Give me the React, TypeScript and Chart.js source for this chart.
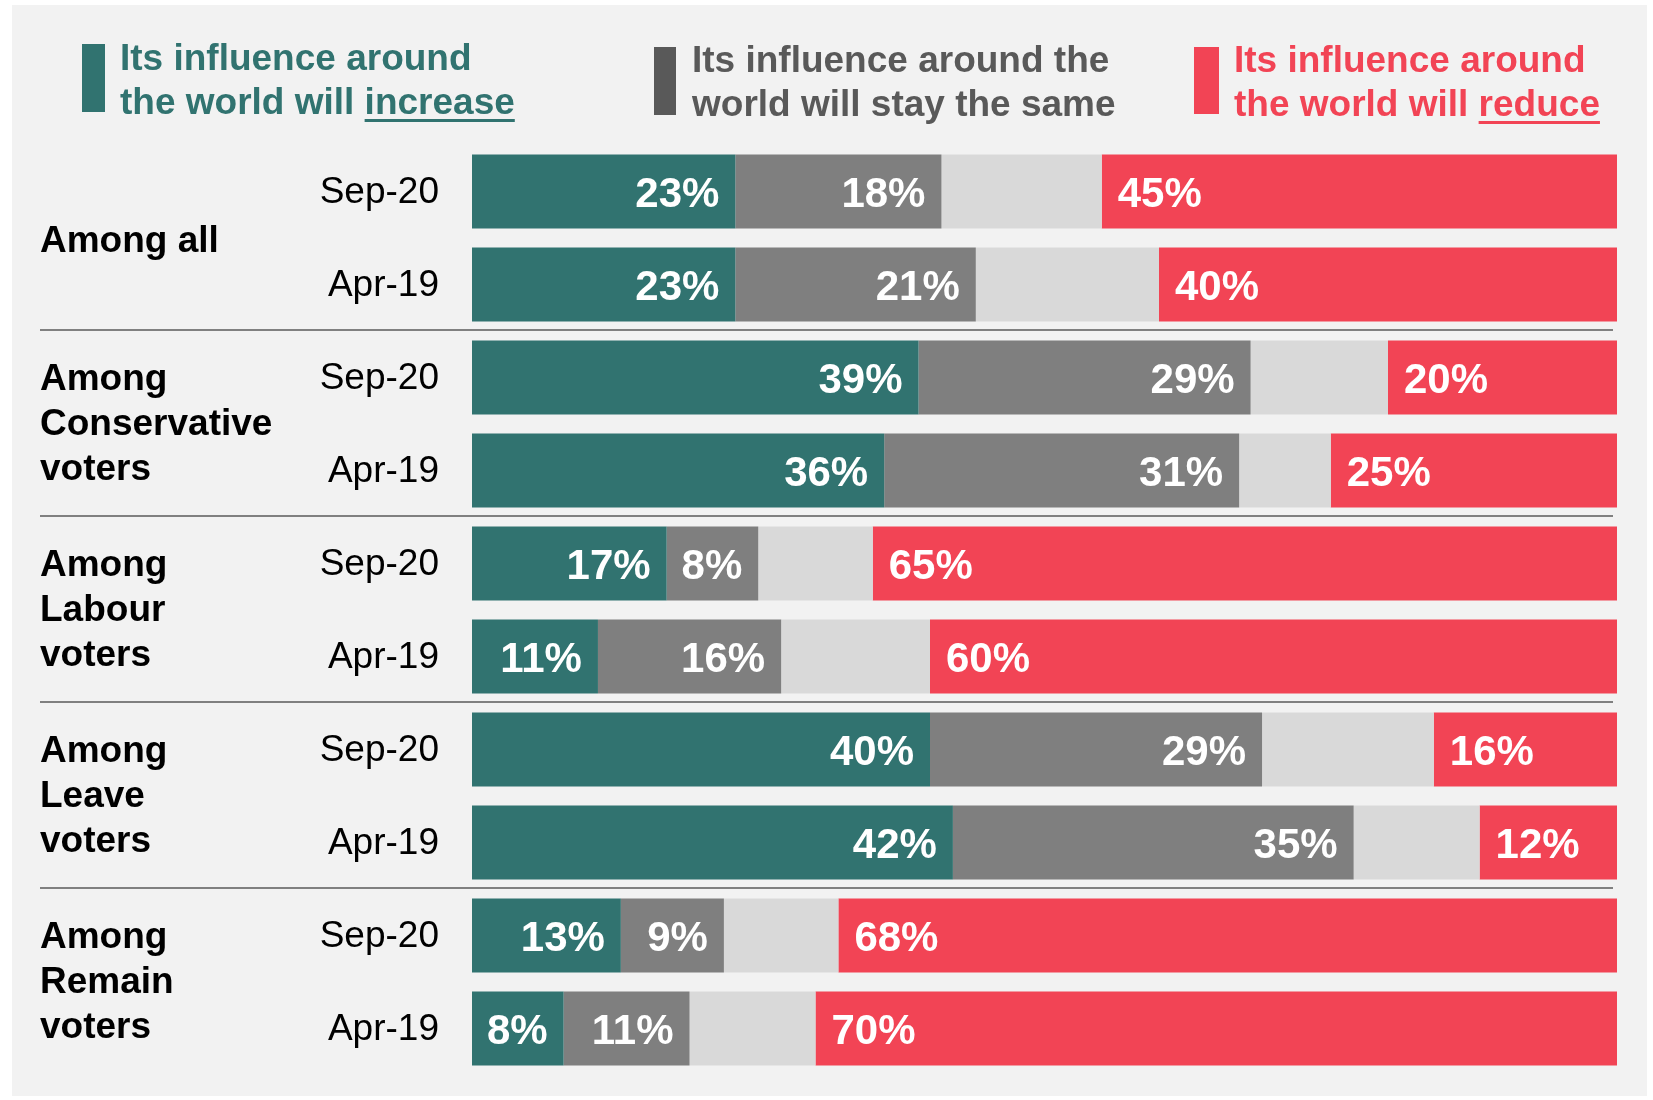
import React, { useEffect, useRef } from "react";
import { Chart, registerables } from "chart.js";

Chart.register(...registerables);

// ---- Data ----
const rowLabels = ["Sep-20", "Apr-19", "Sep-20", "Apr-19", "Sep-20", "Apr-19", "Sep-20", "Apr-19", "Sep-20", "Apr-19"];
const groupLabels = [
  ["Among all"],
  ["Among", "Conservative", "voters"],
  ["Among", "Labour", "voters"],
  ["Among", "Leave", "voters"],
  ["Among", "Remain", "voters"],
];
const increaseValues = [23, 23, 39, 36, 17, 11, 40, 42, 13, 8];
const sameValues = [18, 21, 29, 31, 8, 16, 29, 35, 9, 11];
const dontKnowValues = [14, 16, 12, 8, 10, 13, 15, 11, 10, 11];
const reduceValues = [45, 40, 20, 25, 65, 60, 16, 12, 68, 70];
const legendIncrease = ["Its influence around", "the world will ", "increase"];
const legendSame = ["Its influence around the", "world will stay the same", ""];
const legendReduce = ["Its influence around", "the world will ", "reduce"];

const TEAL = "#317370";
const GRAY = "#7f7f7f";
const LIGHT = "#d9d9d9";
const RED = "#f24455";
const DARKGRAY = "#595959";
const FONT = '"Liberation Sans", Arial, Helvetica, sans-serif';

const decorPlugin = {
  id: "decor",
  beforeDraw(chart: any) {
    const ctx = chart.ctx;
    ctx.save();
    ctx.fillStyle = "#ffffff";
    ctx.fillRect(0, 0, chart.width, chart.height);
    ctx.fillStyle = "#f2f2f2";
    ctx.fillRect(12, 5, 1635, 1091);
    ctx.restore();
  },
  afterDatasetsDraw(chart: any) {
    const ctx = chart.ctx;
    const yScale = chart.scales.y;
    ctx.save();

    // data labels
    ctx.font = `bold 42px ${FONT}`;
    ctx.fillStyle = "#ffffff";
    ctx.textBaseline = "middle";
    chart.data.datasets.forEach((ds: any, di: number) => {
      if (di === 2) return;
      const meta = chart.getDatasetMeta(di);
      meta.data.forEach((el: any, i: number) => {
        const v = ds.data[i];
        if (!v) return;
        const txt = `${v}%`;
        const lo = Math.min(el.x, el.base);
        const hi = Math.max(el.x, el.base);
        if (di === 3) {
          ctx.textAlign = "left";
          ctx.fillText(txt, lo + 16, el.y + 4);
        } else {
          ctx.textAlign = "right";
          ctx.fillText(txt, hi - 16, el.y + 4);
        }
      });
    });

    // row labels
    ctx.font = `37px ${FONT}`;
    ctx.fillStyle = "#000000";
    ctx.textAlign = "right";
    rowLabels.forEach((lab, i) => {
      ctx.fillText(lab, 439, yScale.getPixelForValue(i) + 1);
    });

    // group labels + separators
    ctx.font = `bold 37px ${FONT}`;
    ctx.textAlign = "left";
    groupLabels.forEach((lines, g) => {
      const cy = (yScale.getPixelForValue(2 * g) + yScale.getPixelForValue(2 * g + 1)) / 2;
      const lh = 45;
      lines.forEach((ln, k) => {
        ctx.fillText(ln, 40, cy + (k - (lines.length - 1) / 2) * lh + (lines.length > 1 ? 1 : 4));
      });
      if (g > 0) {
        const sy = Math.round((yScale.getPixelForValue(2 * g - 1) + yScale.getPixelForValue(2 * g)) / 2) - 1;
        ctx.strokeStyle = "#808080";
        ctx.lineWidth = 2;
        ctx.beginPath();
        ctx.moveTo(40, sy);
        ctx.lineTo(1613, sy);
        ctx.stroke();
      }
    });

    // legend
    const drawLegend = (lines: string[], color: string, textColor: string, rx: number, rw: number, ry: number, rh: number, tx: number, b1: number, b2: number) => {
      ctx.fillStyle = color;
      ctx.fillRect(rx, ry, rw, rh);
      ctx.fillStyle = textColor;
      ctx.font = `bold 37px ${FONT}`;
      ctx.textAlign = "left";
      ctx.textBaseline = "alphabetic";
      ctx.fillText(lines[0], tx, b1);
      ctx.fillText(lines[1], tx, b2);
      if (lines[2]) {
        const w0 = ctx.measureText(lines[1]).width;
        ctx.fillText(lines[2], tx + w0, b2);
        const w1 = ctx.measureText(lines[2]).width;
        ctx.fillRect(tx + w0, b2 + 5, w1, 3);
      }
    };
    drawLegend(legendIncrease, TEAL, TEAL, 82, 23, 44, 68, 120, 70, 114);
    drawLegend(legendSame, DARKGRAY, DARKGRAY, 654, 22, 47, 68, 692, 72, 116);
    drawLegend(legendReduce, RED, RED, 1194, 25, 47, 67, 1234, 72, 116);

    ctx.restore();
  },
};

export default function App() {
  const canvasRef = useRef<HTMLCanvasElement | null>(null);

  useEffect(() => {
    const canvas = canvasRef.current;
    if (!canvas) return;
    const chart = new Chart(canvas, {
      type: "bar",
      data: {
        labels: rowLabels.map((l, i) => `${i}`),
        datasets: [
          { label: "increase", data: increaseValues, backgroundColor: TEAL },
          { label: "same", data: sameValues, backgroundColor: GRAY },
          { label: "dont know", data: dontKnowValues, backgroundColor: LIGHT },
          { label: "reduce", data: reduceValues, backgroundColor: RED },
        ],
      },
      options: {
        indexAxis: "y",
        responsive: false,
        animation: false,
        devicePixelRatio: 1,
        layout: { padding: { left: 472, right: 36, top: 145, bottom: 25 } },
        datasets: { bar: { categoryPercentage: 1, barPercentage: 0.795, borderWidth: 0 } } as any,
        scales: {
          x: { stacked: true, min: 0, max: 100, display: false },
          y: { stacked: true, display: false },
        },
        plugins: {
          legend: { display: false },
          tooltip: { enabled: false },
        },
      },
      plugins: [decorPlugin],
    });
    return () => chart.destroy();
  }, []);

  return (
    <div style={{ position: "fixed", left: 0, top: 0, width: 1653, height: 1100 }}>
      <canvas ref={canvasRef} width={1653} height={1100} style={{ display: "block", width: 1653, height: 1100 }} />
    </div>
  );
}
